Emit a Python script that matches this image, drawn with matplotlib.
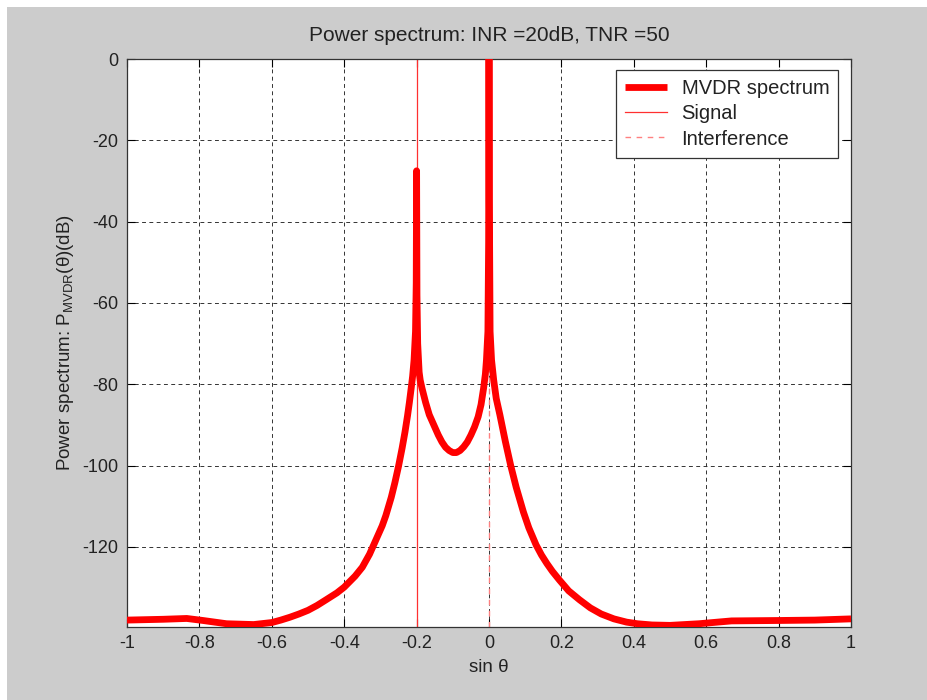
import matplotlib
matplotlib.use("Agg")
import matplotlib.pyplot as plt
from matplotlib.patches import Rectangle

plt.rcParams['font.family'] = ['Liberation Sans', 'DejaVu Sans']
plt.rcParams['mathtext.fontset'] = 'custom'
plt.rcParams['mathtext.rm'] = 'Liberation Sans'

# ---- data ----
sin_theta = [-1.0, -0.9, -0.835, -0.79, -0.725, -0.65, -0.6, -0.575, -0.55, -0.525,
             -0.5, -0.475, -0.45, -0.42, -0.4, -0.37, -0.35, -0.33, -0.31, -0.295,
             -0.285, -0.27, -0.26, -0.25, -0.24, -0.232, -0.225, -0.22, -0.215,
             -0.211, -0.207, -0.203, -0.201, -0.2, -0.199, -0.197, -0.193, -0.19,
             -0.185, -0.175, -0.165, -0.155, -0.14, -0.13, -0.12, -0.11, -0.1,
             -0.09, -0.08, -0.07, -0.06, -0.05, -0.04, -0.03, -0.022, -0.015,
             -0.01, -0.007, -0.003, -0.001, 0.0, 0.001, 0.003, 0.007, 0.013,
             0.02, 0.03, 0.045, 0.06, 0.075, 0.095, 0.11, 0.13, 0.145, 0.16,
             0.175, 0.195, 0.22, 0.25, 0.28, 0.31, 0.345, 0.38, 0.41, 0.45, 0.5,
             0.58, 0.67, 0.8, 0.9, 1.0]
p_mvdr_db = [-138.0, -137.8, -137.6, -138.1, -138.9, -139.1, -138.6, -138.0, -137.3, -136.5,
             -135.6, -134.4, -133.0, -131.3, -129.9, -127.2, -125.0, -121.8, -117.8, -114.8,
             -112.3, -107.8, -104.2, -100.2, -95.7, -91.7, -87.7, -84.5, -81.0,
             -78.0, -74.0, -67.0, -55.0, -27.5, -58.0, -70.0, -77.0, -79.0,
             -81.0, -84.5, -87.5, -89.5, -92.5, -94.2, -95.5, -96.3, -96.8,
             -96.8, -96.3, -95.4, -94.2, -92.5, -90.5, -88.0, -85.0, -81.0,
             -77.5, -74.0, -67.0, -45.0, 0.0, -35.0, -67.0, -74.0, -79.0,
             -83.5, -87.5, -94.0, -100.0, -105.3, -111.4, -115.3, -119.5, -122.0, -124.1,
             -126.0, -128.2, -130.8, -133.0, -135.0, -136.5, -137.7, -138.5, -138.9, -139.2, -139.3,
             -138.9, -138.2, -138.1, -138.0, -137.7]
signal_pos = -0.2
interference_pos = 0.0
x_ticks = [-1, -0.8, -0.6, -0.4, -0.2, 0, 0.2, 0.4, 0.6, 0.8, 1]
x_tick_labels = ['-1', '-0.8', '-0.6', '-0.4', '-0.2', '0', '0.2', '0.4', '0.6', '0.8', '1']
y_ticks = [-120, -100, -80, -60, -40, -20, 0]
y_tick_labels = ['-120', '-100', '-80', '-60', '-40', '-20', '0']

fig = plt.figure(figsize=(9.28, 7.0), dpi=100)
fig.patch.set_facecolor('white')
fig.patches.append(Rectangle((7 / 928, 0), 1, 1 - 7 / 700, transform=fig.transFigure,
                             facecolor='#cccccc', edgecolor='none', zorder=-10))

ax = fig.add_axes([127 / 928, 1 - 627 / 700, (851 - 127) / 928, (627 - 59) / 700])
ax.set_facecolor('white')

ax.plot(sin_theta, p_mvdr_db, color='red', lw=4.9, solid_joinstyle='round',
        solid_capstyle='butt', label='MVDR spectrum', zorder=3)
ax.axvline(signal_pos, color='#ff3030', lw=0.9, ls='-', label='Signal', zorder=2)
ax.axvline(interference_pos, color='#ff8080', lw=1.0, ls=(0, (4, 4)),
           label='Interference', zorder=2)

ax.set_xlim(-1, 1)
ax.set_ylim(-139.7, 0)
ax.set_xticks(x_ticks)
ax.set_xticklabels(x_tick_labels)
ax.set_yticks(y_ticks)
ax.set_yticklabels(y_tick_labels)
ax.grid(True, color='#333333', lw=0.7, ls=(0, (4, 3.5)))
ax.set_axisbelow(True)
ax.tick_params(direction='in', length=6, width=0.8, top=True, right=True,
               labelsize=13, colors='black', pad=6)
for tl in ax.get_xticklabels() + ax.get_yticklabels():
    tl.set_color('#222222')
for s in ax.spines.values():
    s.set_color('#333333')
    s.set_linewidth(0.9)

ax.set_title('Power spectrum: INR =20dB, TNR =50', fontsize=15, color='#222222', pad=13)
ax.set_xlabel('sin θ', fontsize=13.5, color='#222222', labelpad=5)
ax.set_ylabel('Power spectrum: P$_{\\mathrm{MVDR}}$(θ)(dB)', fontsize=13.5,
              color='#222222', labelpad=5)

leg = ax.legend(loc='upper right', bbox_to_anchor=(0.9825, 0.98), fontsize=14.5,
                frameon=True, fancybox=False, handlelength=2.1, handletextpad=0.7,
                borderpad=0.45, labelspacing=0.3, borderaxespad=0.0)
leg.get_frame().set_edgecolor('#333333')
leg.get_frame().set_linewidth(0.9)
leg.get_frame().set_alpha(1.0)
for t in leg.get_texts():
    t.set_color('#222222')

fig.savefig('out.png', dpi=100, facecolor=fig.get_facecolor())
